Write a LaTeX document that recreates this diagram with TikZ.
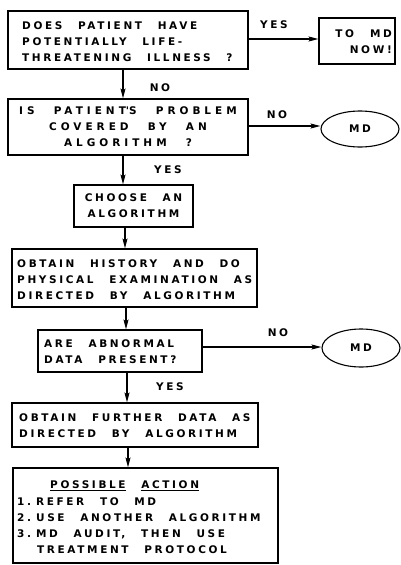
\documentclass[tikz,border=0pt]{standalone}
\usepackage{fontspec}
\setmainfont{DejaVu Sans}[LetterSpace=25,WordSpace=2.5]
\newfontfamily\widefam{DejaVu Sans}[LetterSpace=38,WordSpace=2.5]
\usetikzlibrary{shapes.geometric,arrows.meta}
\begin{document}
\begin{tikzpicture}[x=1pt,y={(0pt,-1pt)},
  txtfont/.style={font=\fontsize{10.5}{16}\selectfont\bfseries},
  box/.style={draw,line width=1.1pt,inner sep=0pt,txtfont},
  oval/.style={draw,ellipse,line width=1.1pt,inner sep=0pt,txtfont,minimum width=78pt},
  txt/.style={inner sep=0pt,txtfont},
  arr/.style={line width=1.1pt,-{Stealth[length=10pt,width=5pt,inset=2pt]}}]
\useasboundingbox (0,0) rectangle (400,565);
% boxes
\node[box,minimum width=240pt,minimum height=58pt] (q1) at (128,40) {};
\node[txt,anchor=west,align=left] (q1t) at (22,42) {DOES PATIENT HAVE\\POTENTIALLY LIFE-\\THREATENING ILLNESS ?};
\node[box,minimum width=76pt,minimum height=46pt] (now) at (357,41) {};
\node[txt,anchor=east,align=right] (nowt) at (392,42) {TO\hspace{16pt}MD\\NOW!};
\node[box,minimum width=240pt,minimum height=56pt,align=center] (q2) at (128,127) {\widefam\bfseries IS PATIENT\textquotesingle S PROBLEM\\\widefam\bfseries COVERED BY AN\\\widefam\bfseries ALGORITHM ?};
\node[oval,minimum height=36pt] (md1) at (360,129) {MD};
\node[box,minimum width=119pt,minimum height=42pt,align=center] (choose) at (133.5,206) {CHOOSE AN\\ALGORITHM};
\node[box,minimum width=245pt,minimum height=58pt] (hist) at (134.5,278) {};
\node[txt,anchor=west,align=left] (histt) at (17,280) {OBTAIN HISTORY AND DO\\PHYSICAL EXAMINATION AS\\DIRECTED BY ALGORITHM};
\node[box,minimum width=164pt,minimum height=42pt] (q3) at (120,351) {};
\node[txt,anchor=west,align=left] (q3t) at (44,352) {ARE ABNORMAL\\DATA PRESENT?};
\node[oval,minimum height=38pt] (md2) at (361,348) {MD};
\node[box,minimum width=246pt,minimum height=44pt] (further) at (135,425) {};
\node[txt,anchor=west,align=left] (furthert) at (19,426) {OBTAIN FURTHER DATA AS\\DIRECTED BY ALGORITHM};
\node[box,minimum width=265pt,minimum height=95pt] (action) at (145.5,515.5) {};
\node[txt,anchor=west,align=left] (actiont) at (17,517) {\hspace{33pt}\underline{POSSIBLE} \underline{ACTION}\\[1pt]1.\hspace{5pt}REFER TO MD\\2.\hspace{5pt}USE ANOTHER ALGORITHM\\3.\hspace{5pt}MD AUDIT, THEN USE\\\hspace{20pt}TREATMENT PROTOCOL};
% labels
\node[txt] (yes1) at (274,25) {YES};
\node[txt] (no1) at (160,88) {NO};
\node[txt] (no2) at (277,115) {NO};
\node[txt] (yes2) at (168,170) {YES};
\node[txt] (no3) at (278,333) {NO};
\node[txt] (yes3) at (170,387) {YES};
% connectors
\draw[arr] (q1.east |- 0,39) -- (now.west |- 0,39);
\draw[arr] (q2.east |- 0,126) -- (md1.west |- 0,126);
\draw[arr] (q3.east |- 0,347) -- (md2.west |- 0,347);
\draw[arr] (q1.south -| 123,0) -- (q2.north -| 123,0);
\draw[arr] (q2.south -| 123,0) -- (choose.north -| 123,0);
\draw[arr] (choose.south -| 125,0) -- (hist.north -| 125,0);
\draw[arr] (hist.south -| 126,0) -- (q3.north -| 126,0);
\draw[arr] (q3.south -| 127,0) -- (further.north -| 127,0);
\draw[arr] (further.south -| 128,0) -- (action.north -| 128,0);
\end{tikzpicture}
\end{document}
